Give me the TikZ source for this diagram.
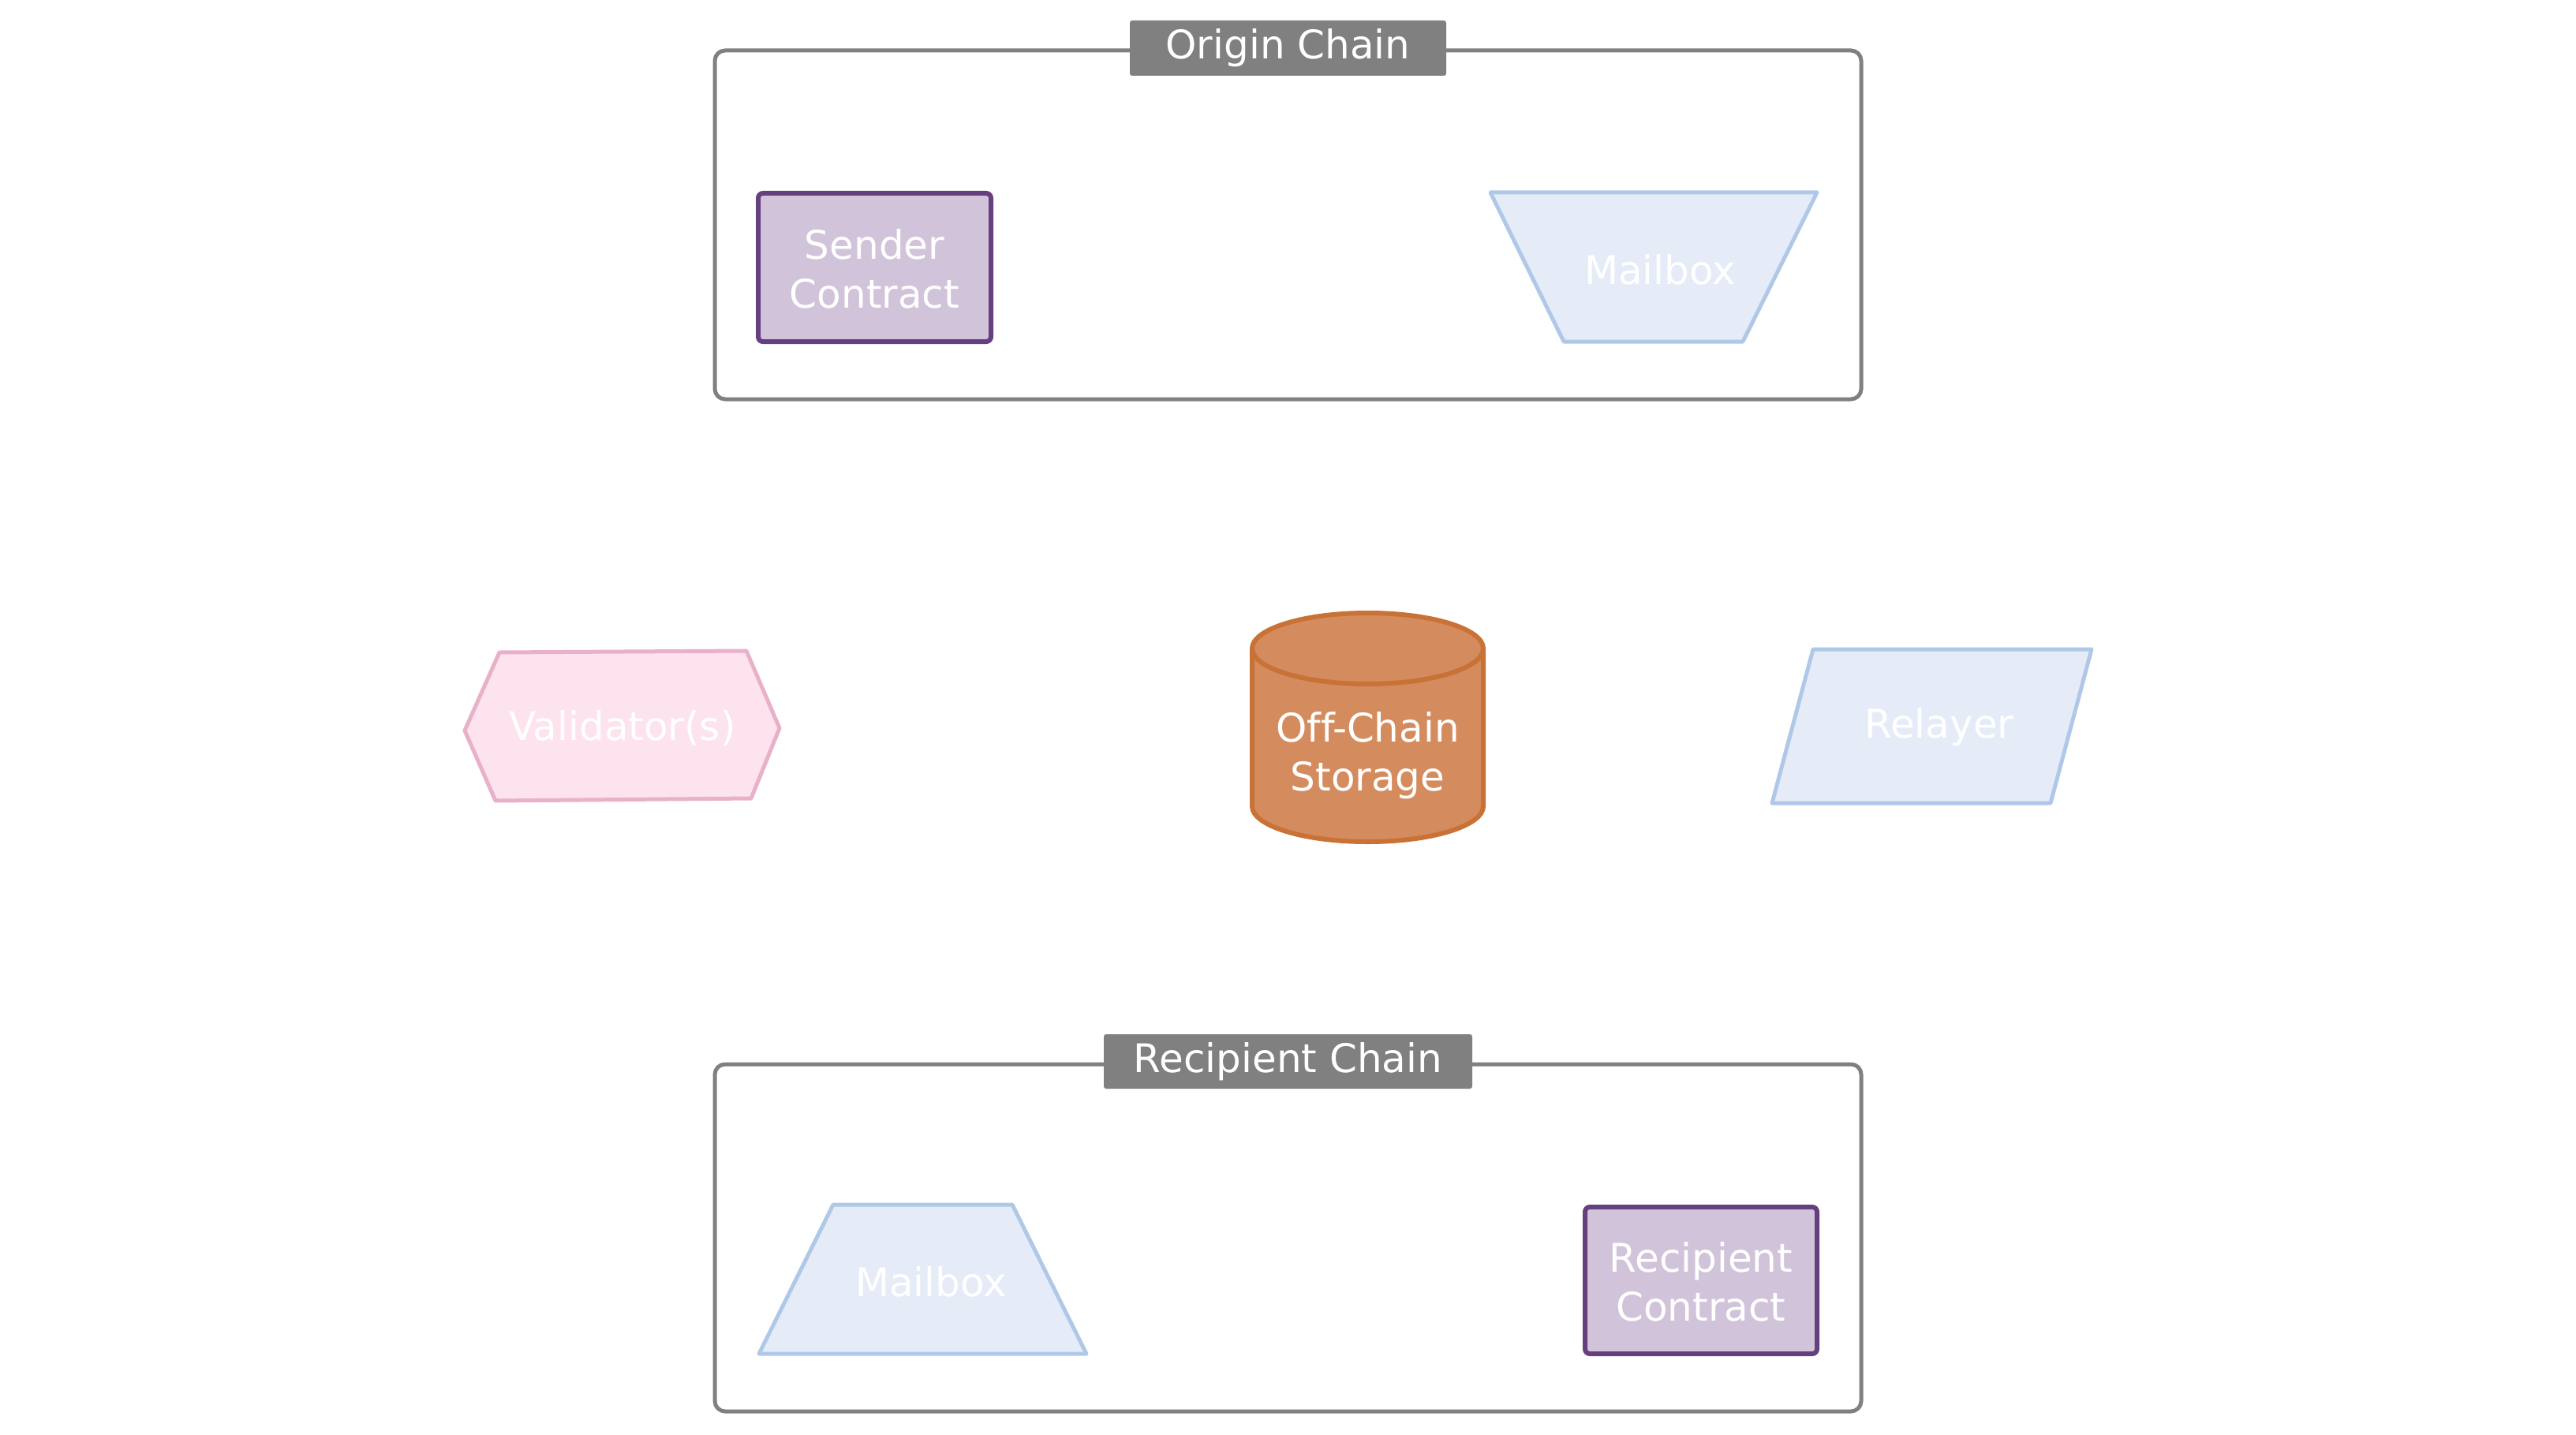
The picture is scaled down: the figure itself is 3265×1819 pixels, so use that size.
\documentclass[tikz,border=0pt]{standalone}
\usepackage{fontspec}
\setmainfont[Ligatures=NoCommon]{DejaVu Sans}
\definecolor{clgray}{HTML}{808080}
\definecolor{ctfill}{HTML}{D1C4DA}
\definecolor{ctdraw}{HTML}{663F7F}
\definecolor{mbfill}{HTML}{E5ECF8}
\definecolor{mbdraw}{HTML}{B0C8E8}
\definecolor{vafill}{HTML}{FDE3EE}
\definecolor{vadraw}{HTML}{E9B1C9}
\definecolor{cyfill}{HTML}{D48C5E}
\definecolor{cydraw}{HTML}{C87236}
\tikzset{
  txt/.style={text=white, font=\fontsize{50}{62}\selectfont, align=center, inner sep=0pt},
  cluster/.style={draw=clgray, line width=5pt, rounded corners=13pt},
  cltitle/.style={fill=clgray, rounded corners=3pt},
  contract/.style={fill=ctfill, draw=ctdraw, line width=6pt, rounded corners=6pt},
  mailbox/.style={fill=mbfill, draw=mbdraw, line width=5pt, line join=round},
  validator/.style={fill=vafill, draw=vadraw, line width=5pt, line join=round},
  storage/.style={fill=cyfill, draw=cydraw, line width=6pt},
}
\begin{document}
\begin{tikzpicture}[x=1pt,y=-1pt]
\useasboundingbox (0,0) rectangle (3265,1819);
% Origin chain cluster
\draw[cluster] (906,64) rectangle (2359,506);
\fill[cltitle] (1432,26) rectangle (1833,96);
\node[txt] (origintitle) at (1632.5,61) {Origin Chain};
% Sender contract
\draw[contract] (961,245) rectangle (1256,433);
\node[txt] (sender) at (1108.5,341) {Sender\\Contract};
% Origin mailbox (inverted trapezoid)
\draw[mailbox] (1889,244) -- (2303,244) -- (2209,433) -- (1982,433) -- cycle;
\node[txt] (mailboxo) at (2104,342) {Mailbox};
% Validator hexagon
\draw[validator] (633,827) -- (946,825) -- (988,923) -- (952,1012) -- (628,1015) -- (589,926) -- cycle;
\node[txt] (validator) at (789,923) {Validator(s)};
% Off-chain storage cylinder
\draw[storage] (1587,822) -- (1587,1022) arc[start angle=180, end angle=0, x radius=146.5, y radius=45] -- (1880,822) arc[start angle=0, end angle=-180, x radius=146.5, y radius=45] -- cycle;
\draw[storage] (1587,822) arc[start angle=180, end angle=0, x radius=146.5, y radius=45];
\node[txt] (storage) at (1733.5,958) {Off-Chain\\Storage};
% Relayer parallelogram
\draw[mailbox] (2298,823) -- (2651,823) -- (2599,1018) -- (2246,1018) -- cycle;
\node[txt] (relayer) at (2458,922) {Relayer};
% Recipient chain cluster
\draw[cluster] (906,1349) rectangle (2359,1789);
\fill[cltitle] (1399,1311) rectangle (1866,1380);
\node[txt] (recipienttitle) at (1632.5,1346) {Recipient Chain};
% Recipient mailbox (trapezoid)
\draw[mailbox] (1056,1527) -- (1283,1527) -- (1377,1716) -- (962,1716) -- cycle;
\node[txt] (mailboxr) at (1180,1625) {Mailbox};
% Recipient contract
\draw[contract] (2009,1530) rectangle (2303,1716);
\node[txt] (recipient) at (2156,1625) {Recipient\\Contract};
\end{tikzpicture}
\end{document}
